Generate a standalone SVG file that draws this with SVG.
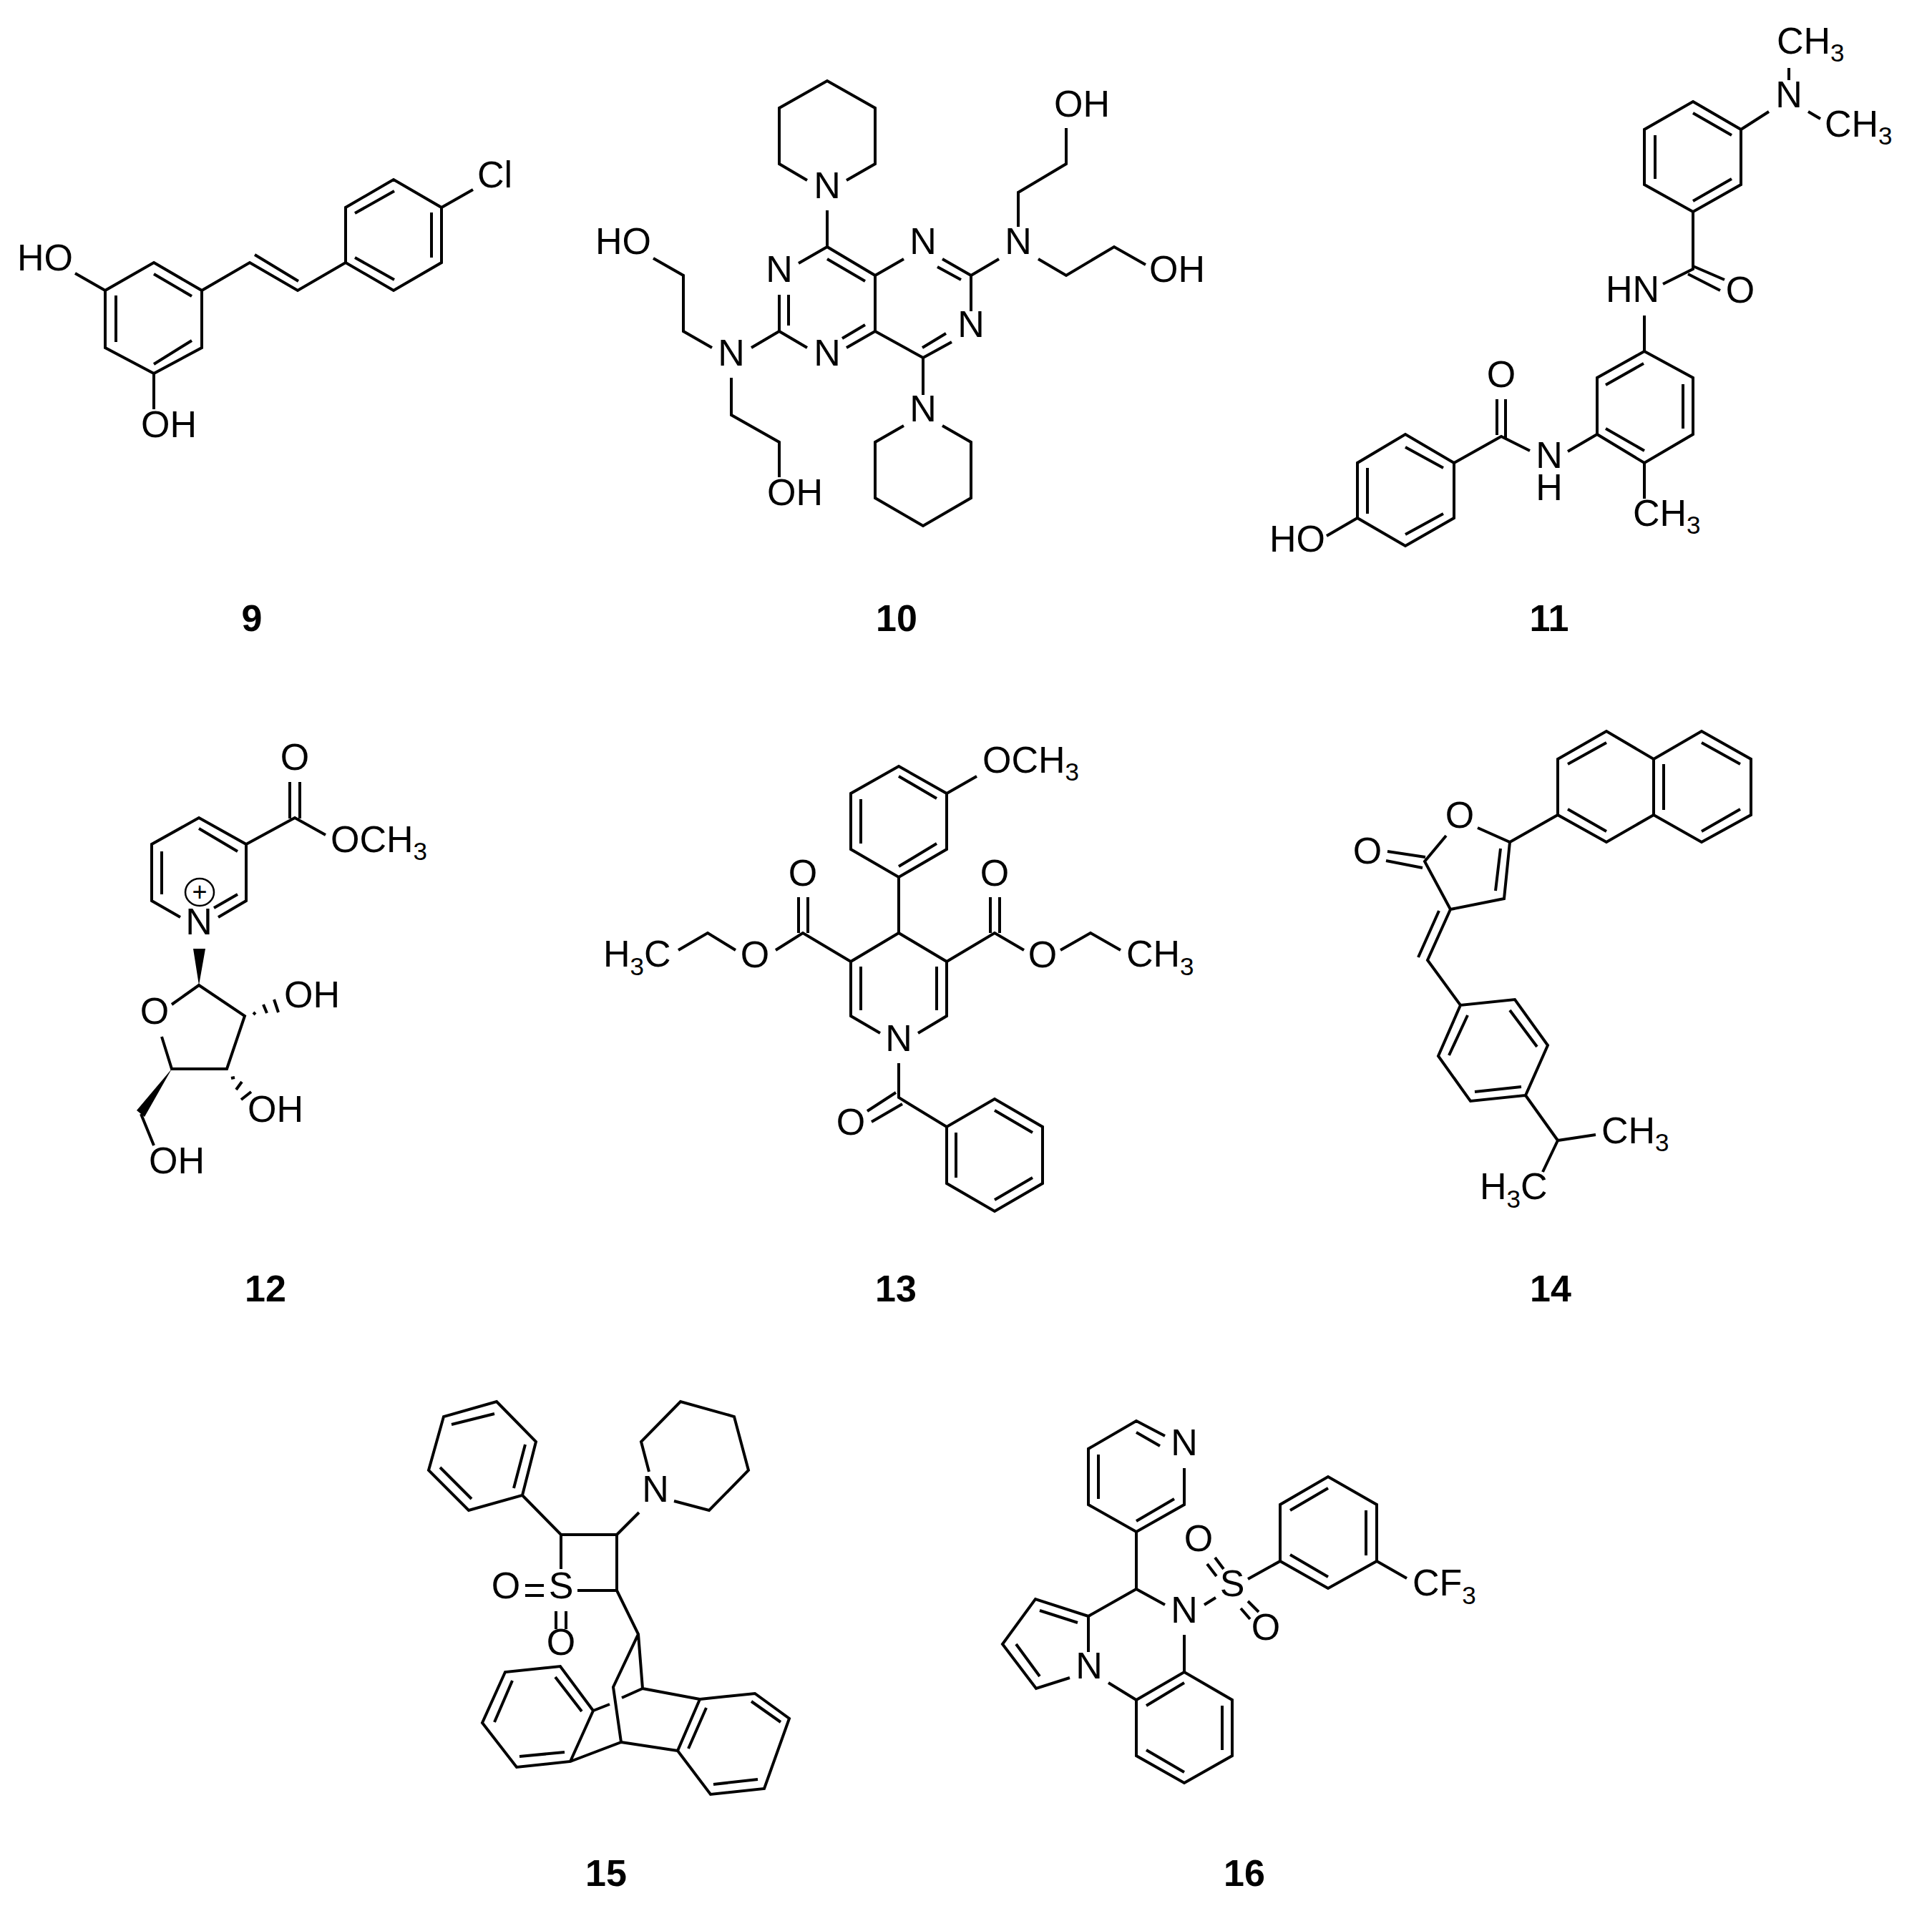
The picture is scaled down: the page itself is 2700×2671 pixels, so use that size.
<svg xmlns="http://www.w3.org/2000/svg" width="2700" height="2671" viewBox="0 0 2700 2671">
<style>
.b{fill:none;stroke:#000;stroke-width:4;stroke-linejoin:miter;stroke-linecap:butt}
.w{fill:#000;stroke:none}
text{font-family:"Liberation Sans",Arial,sans-serif;font-size:52px;fill:#000}
.m{text-anchor:middle}
.l{font-weight:bold;text-anchor:middle}
.s{font-size:35px}
.ring{fill:none;stroke:#000;stroke-width:2.5}
</style>
<rect width="2700" height="2671" fill="#fff"/>
<g id="mol9">
<path class="b" d="M215 367L282 406L282 486L215 522L147 486L147 406ZM215 383L268 414M268 476L215 509M162 413L162 478M282 406L349 367L416 406L483 367L550 406L617 367L617 290L550 251L483 290L483 367M356 356L417 393M496 360L551 391M603 297L603 360M496 298L551 267M617 290L661 265M147 406L105 382M215 522L215 572"/>
<text x="667" y="262">Cl</text><text x="24" y="378">HO</text><text x="197" y="611">OH</text>
<text class="l" x="352" y="882">9</text>
</g>
<g id="mol10">
<path class="b" d="M1183 252L1223 229L1223 151L1156 113L1089 151L1089 229L1128 252M1156 294L1156 345L1223 385L1223 463M1156 362L1209 393M1223 385L1263 362M1317 362L1357 385L1357 435M1310 373L1343 391M1330 478L1290 500L1223 463M1322 466L1289 486M1290 500L1290 552M1317 595L1357 618L1357 696L1290 735L1223 696L1223 618L1263 595M1223 463L1183 486M1209 454L1177 473M1128 486L1089 463L1089 412M1102 455L1102 412M1116 368L1156 345M1089 463L1050 486M995 486L955 463L955 385L913 361M1022 528L1022 580L1089 618L1089 667M1357 385L1396 362M1423 317L1423 269L1490 229L1490 179M1451 362L1490 385L1557 345L1601 370"/>
<text class="m" x="1156" y="277">N</text><text class="m" x="1290" y="355">N</text><text class="m" x="1357" y="471">N</text><text class="m" x="1290" y="589">N</text><text class="m" x="1156" y="511">N</text><text class="m" x="1089" y="394">N</text><text class="m" x="1022" y="511">N</text><text class="m" x="1423" y="355">N</text>
<text x="832" y="355">HO</text><text x="1072" y="706">OH</text><text x="1473" y="163">OH</text><text x="1606" y="394">OH</text>
<text class="l" x="1253" y="882">10</text>
</g>
<g id="mol11">
<path class="b" d="M2366 142L2433 181L2433 258L2366 296L2298 258L2298 181ZM2366 158L2420 189M2420 250L2366 281M2313 189L2313 250M2433 181L2472 156M2500 95L2500 112M2527 156L2544 166M2366 296L2366 376L2324 397M2366 372L2410 391M2359 383L2404 406M2298 441L2298 491M2298 491L2366 528L2366 607L2298 647L2232 607L2232 528ZM2244 538L2297 508M2352 537L2352 599M2298 630L2244 599M2298 647L2298 697M2232 607L2191 631M2138 630L2098 610L2032 647L2032 724L1964 763L1897 724L1897 647L1964 607L2032 647M2092 608L2092 558M2104 612L2104 558M1964 625L2017 654M2017 718L1964 747M1911 654L1911 718M1897 724L1854 749"/>
<text x="2483" y="75">CH<tspan class="s" dy="11">3</tspan></text><text class="m" x="2500" y="150">N</text><text x="2550" y="191">CH<tspan class="s" dy="11">3</tspan></text>
<text x="2244" y="422">HN</text><text class="m" x="2432" y="423">O</text><text x="2282" y="735">CH<tspan class="s" dy="11">3</tspan></text>
<text class="m" x="2165" y="654">N</text><text class="m" x="2165" y="699">H</text><text class="m" x="2098" y="541">O</text><text x="1774" y="771">HO</text>
<text class="l" x="2165" y="882">11</text>
</g>
<g id="mol12">
<path class="b" d="M305 1282L344 1259L344 1180L278 1143L212 1180L212 1259L252 1282M278 1158L332 1190M226 1190L226 1250M299 1269L332 1250M344 1180L412 1143L455 1167M405 1144L405 1093M419 1144L419 1093M240 1404L278 1377L342 1420L317 1494L240 1494L226 1449M354 1415L357 1418M368 1404L373 1416M383 1397L389 1415M323 1507L328 1506M330 1523L338 1512M337 1537L351 1526M197 1557L215 1601"/>
<path class="w" d="M270 1326L287 1326L278 1377ZM240 1494L191 1552L202 1561Z"/>
<ellipse class="ring" cx="279" cy="1247" rx="20" ry="19"/>
<text class="m" style="font-size:36px" x="279" y="1259">+</text>
<text class="m" x="278" y="1306">N</text><text class="m" x="412" y="1076">O</text><text x="462" y="1191">OCH<tspan class="s" dy="11">3</tspan></text>
<text class="m" x="216" y="1431">O</text><text x="397" y="1408">OH</text><text x="346" y="1568">OH</text><text x="208" y="1640">OH</text>
<text class="l" x="371" y="1819">12</text>
</g>
<g id="mol13">
<path class="b" d="M1256 1071L1323 1109L1323 1187L1256 1226L1189 1187L1189 1109ZM1256 1085L1309 1116M1309 1179L1256 1211M1203 1117L1203 1179M1323 1109L1365 1085M1256 1226L1256 1304L1323 1344L1323 1420L1283 1444M1256 1304L1189 1344L1189 1420L1230 1444M1203 1351L1203 1412M1309 1351L1309 1412M1189 1344L1122 1304L1084 1328M1116 1304L1116 1254M1129 1304L1129 1254M1028 1328L989 1304L948 1328M1323 1344L1390 1304L1431 1328M1384 1304L1384 1254M1397 1304L1397 1254M1482 1328L1524 1304L1566 1328M1256 1486L1256 1534L1323 1575L1390 1536L1457 1575L1457 1654L1390 1693L1323 1654L1323 1575M1252 1527L1212 1553M1261 1543L1218 1568M1390 1552L1443 1583M1443 1646L1390 1677M1336 1583L1336 1646"/>
<text x="1373" y="1080">OCH<tspan class="s" dy="11">3</tspan></text><text class="m" x="1256" y="1469">N</text><text class="m" x="1122" y="1238">O</text><text class="m" x="1055" y="1352">O</text>
<text x="843" y="1351">H<tspan class="s" dy="12">3</tspan><tspan dy="-12">C</tspan></text><text class="m" x="1390" y="1238">O</text><text class="m" x="1457" y="1352">O</text><text x="1574" y="1351">CH<tspan class="s" dy="12">3</tspan></text><text class="m" x="1189" y="1586">O</text>
<text class="l" x="1252" y="1819">13</text>
</g>
<g id="mol14">
<path class="b" d="M2177 1061L2245 1022L2311 1061L2378 1022L2447 1061L2447 1139L2378 1177L2311 1139L2245 1177L2177 1139ZM2311 1061L2311 1139M2191 1068L2245 1038M2191 1131L2245 1162M2325 1068L2325 1132M2378 1038L2432 1068M2432 1131L2378 1162M2177 1139L2110 1177L2065 1157M2110 1177L2102 1256L2027 1271L1991 1204L2021 1168M2097 1186L2090 1245M1992 1198L1939 1190M1988 1213L1937 1203M2027 1271L1995 1342L2041 1405L2117 1397L2163 1461L2132 1531L2055 1539L2010 1476L2041 1405M2011 1273L1982 1338M2110 1412L2148 1463M2061 1526L2126 1519M2025 1475L2051 1419M2132 1531L2177 1594L2230 1586M2177 1594L2156 1638"/>
<text class="m" x="2040" y="1157">O</text><text class="m" x="1911" y="1207">O</text><text x="2238" y="1598">CH<tspan class="s" dy="11">3</tspan></text><text x="2068" y="1676">H<tspan class="s" dy="12">3</tspan><tspan dy="-12">C</tspan></text>
<text class="l" x="2167" y="1819">14</text>
</g>
<g id="mol15">
<path class="b" d="M694 1959L749 2015L730 2090L655 2111L599 2055L620 1980ZM631 1991L691 1976M734 2019L718 2080M615 2051L659 2095M730 2090L784 2145L862 2145L862 2223L807 2223M784 2145L784 2193M734 2216L760 2216M734 2230L760 2230M777 2252L777 2277M791 2252L791 2277M862 2145L893 2114M907 2057L896 2015L951 1959L1026 1980L1046 2055L991 2111L942 2098M862 2223L892 2284L898 2360L978 2375M892 2284L857 2358L868 2435L797 2462M868 2435L947 2447M898 2360L869 2373M852 2382L829 2391M829 2391L797 2462L722 2470L674 2408L706 2337L783 2329ZM776 2344L813 2392M789 2449L726 2455M691 2407L716 2349M978 2375L1055 2367L1103 2402L1068 2500L993 2508L947 2447ZM987 2387L962 2444M1050 2378L1091 2407M1059 2487L997 2494"/>
<text class="m" x="784" y="2234">S</text><text class="m" x="707" y="2234">O</text><text class="m" x="784" y="2313">O</text><text class="m" x="916" y="2099">N</text>
<text class="l" x="847" y="2636">15</text>
</g>
<g id="mol16">
<path class="b" d="M1628 2007L1588 1986L1521 2025L1521 2103L1588 2141L1655 2103L1655 2052M1588 2002L1621 2021M1641 2095L1588 2126M1535 2033L1535 2095M1588 2141L1588 2221L1628 2243M1588 2221L1521 2259L1447 2235L1401 2298L1448 2360L1495 2345M1521 2259L1521 2309M1453 2251L1506 2268M1420 2298L1453 2343M1549 2352L1588 2376M1588 2376L1655 2337L1722 2376L1722 2454L1655 2492L1588 2454ZM1602 2384L1655 2352M1708 2384L1708 2446M1602 2446L1655 2477M1655 2285L1655 2337M1683 2243L1699 2233M1698 2177L1710 2193M1687 2186L1700 2203M1744 2238L1759 2253M1734 2248L1747 2263M1744 2207L1789 2182L1789 2103L1856 2064L1924 2103L1924 2182L1856 2220L1789 2182M1803 2111L1856 2080M1909 2111L1909 2174M1803 2173L1856 2204M1924 2182L1966 2206"/>
<text class="m" x="1655" y="2034">N</text><text class="m" x="1655" y="2268">N</text><text class="m" x="1522" y="2346">N</text><text class="m" x="1722" y="2231">S</text><text class="m" x="1675" y="2168">O</text><text class="m" x="1769" y="2292">O</text>
<text x="1974" y="2230">CF<tspan class="s" dy="12">3</tspan></text>
<text class="l" x="1739" y="2636">16</text>
</g>
</svg>
